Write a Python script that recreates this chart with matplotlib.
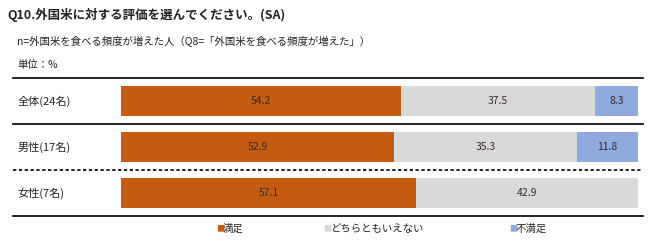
import numpy as np
import matplotlib.pyplot as plt

plt.rcParams['font.family'] = ['Noto Sans CJK JP', 'DejaVu Sans']

categories = ['全体(24名)', '男性(17名)', '女性(7名)']
series_names = ['満足', 'どちらともいえない', '不満足']
satisfied = [54.2, 52.9, 57.1]
neutral = [37.5, 35.3, 42.9]
unsatisfied = [8.3, 11.8, 0.0]
colors = ['#C55A11', '#D9D9D9', '#8FAADC']

W, H = 648, 241


def main():
    fig = plt.figure(figsize=(W / 100, H / 100), dpi=100)
    # axes spans the bar area: x 121..638 px, y 78..216 px
    ax = fig.add_axes([121 / W, 1 - 216 / H, (638 - 121) / W, (216 - 78) / H])

    y = np.arange(len(categories)) + 0.5
    left = np.zeros(len(categories))
    for name, vals, col in zip(series_names, [satisfied, neutral, unsatisfied], colors):
        vals = np.array(vals)
        ax.barh(y, vals, left=left, height=0.65, color=col, label=name)
        for yi, l, v in zip(y, left, vals):
            if v > 0:
                ax.text(l + v / 2, yi, f'{v:.1f}', ha='center', va='center',
                        fontsize=7.5, color='#3a2a2a')
        left += vals

    ax.set_xlim(0, 100)
    ax.set_ylim(3, 0)
    ax.axis('off')

    # row labels
    for yi, c in zip(y, categories):
        ax.text(-0.201, yi, c, transform=ax.get_yaxis_transform(),
                ha='left', va='center', fontsize=8, color='#222222')

    # separators
    x0, x1 = (13 - 121) / 517, (643 - 121) / 517
    ax.axhline(0, x0, x1, color='black', lw=1.2, clip_on=False)
    ax.axhline(1, x0, x1, color='black', lw=1.2, clip_on=False)
    ax.axhline(2, x0, x1, color='black', lw=1.2, ls=(0, (2, 1.5)), clip_on=False)
    ax.axhline(3, x0, x1, color='black', lw=1.2, clip_on=False)

    # header texts
    fig.text(7 / W, 1 - 15 / H, 'Q10.外国米に対する評価を選んでください。(SA)',
             ha='left', va='center', fontsize=9, fontweight='bold', color='#222222')
    fig.text(17 / W, 1 - 42 / H,
             'n=外国米を食べる頻度が増えた人（Q8=「外国米を食べる頻度が増えた」）',
             ha='left', va='center', fontsize=7.5, color='#222222')
    fig.text(17 / W, 1 - 65 / H, '単位：%', ha='left', va='center',
             fontsize=7.5, color='#222222')

    # legend
    leg_x = [216, 323, 509]
    for lx, name, col in zip(leg_x, series_names, colors):
        fig.text(lx / W, 1 - 229 / H, '■', ha='left', va='center',
                 fontsize=6, color=col)
        fig.text((lx + 7) / W, 1 - 229 / H, name, ha='left', va='center',
                 fontsize=7.5, color='#222222')

    fig.savefig('out.png', dpi=100)


if __name__ == "__main__":
    main()
